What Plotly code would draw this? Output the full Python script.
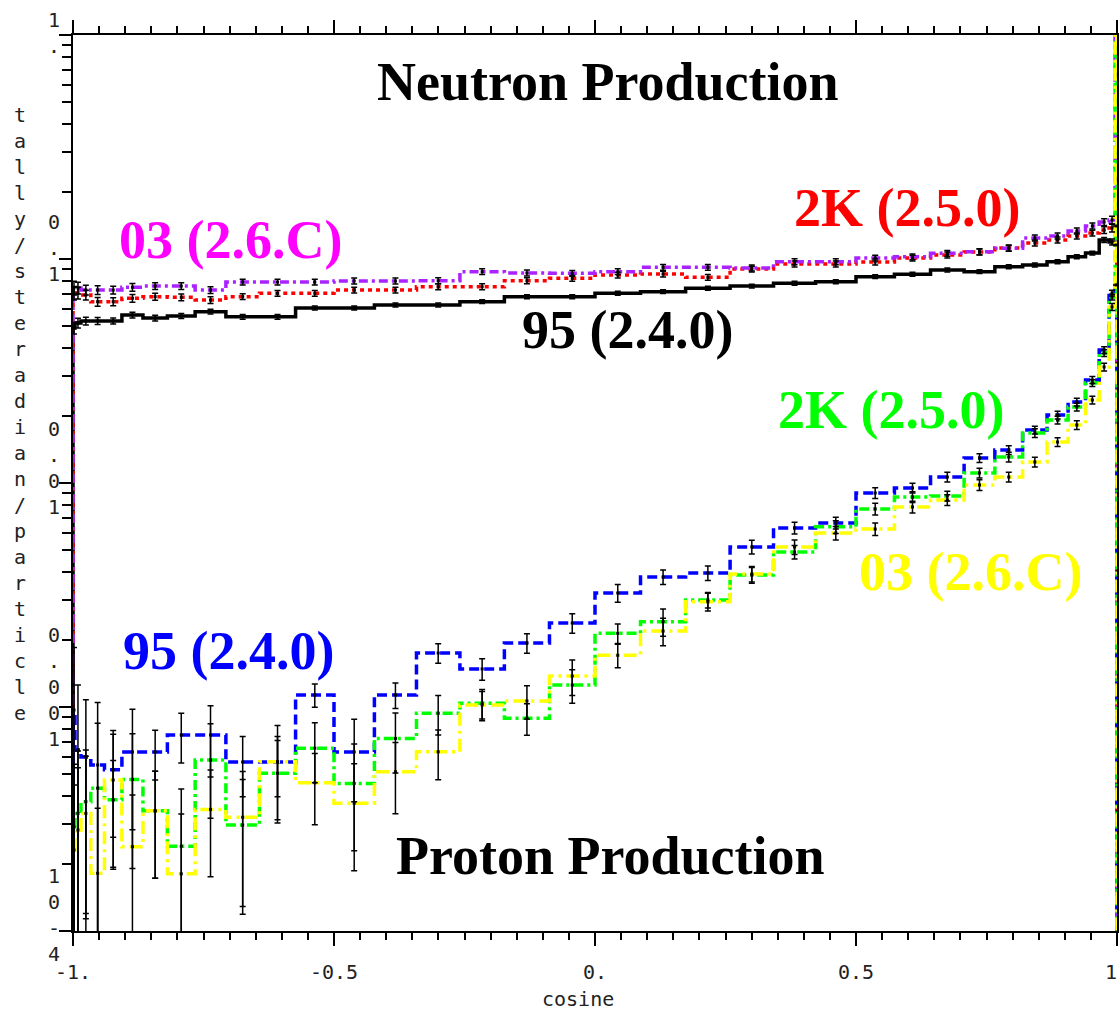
import plotly.graph_objects as go

# ---------------- data ----------------
# cosine bin edges (5-degree angular bins from 180 deg down to 0 deg)
cos_edges = [-1.0, -0.9962, -0.9848, -0.9659, -0.9397, -0.9063, -0.8660, -0.8192, -0.7660,
             -0.7071, -0.6428, -0.5736, -0.5, -0.4226, -0.3420, -0.2588, -0.1736, -0.0872,
             0.0, 0.0872, 0.1736, 0.2588, 0.3420, 0.4226, 0.5, 0.5736, 0.6428, 0.7071,
             0.7660, 0.8192, 0.8660, 0.9063, 0.9397, 0.9659, 0.9848, 0.9962, 1.0]

# Neutron production (tally/steradian/particle)
n95_240 = [0.0492, 0.0518, 0.0529, 0.0529, 0.0529, 0.0562, 0.0545, 0.0557, 0.0582, 0.0552,
           0.0552, 0.0604, 0.0604, 0.0623, 0.0623, 0.0645, 0.0679, 0.0679, 0.0703, 0.0715,
           0.0740, 0.0757, 0.0779, 0.0792, 0.0834, 0.0855, 0.0893, 0.0878, 0.0924, 0.0940,
           0.0973, 0.1023, 0.1063, 0.1216, 0.1191, 0.1155]
n2k_250 = [0.0705, 0.0705, 0.0691, 0.0645, 0.0645, 0.0668, 0.0679, 0.0675, 0.0656, 0.0679,
           0.0703, 0.0703, 0.0727, 0.0727, 0.0752, 0.0752, 0.0800, 0.0820, 0.0848, 0.0857,
           0.0828, 0.0902, 0.0950, 0.0950, 0.0970, 0.1010, 0.1042, 0.1075, 0.1120, 0.1179,
           0.1216, 0.1267, 0.1306, 0.1347, 0.1376, 0.1404]
n03_26c = [0.0743, 0.0743, 0.0727, 0.0727, 0.0727, 0.0748, 0.0757, 0.0757, 0.0727, 0.0789,
           0.0789, 0.0789, 0.0798, 0.0798, 0.0800, 0.0878, 0.0866, 0.0863, 0.0878, 0.0918,
           0.0918, 0.0912, 0.0973, 0.0973, 0.1010, 0.1023, 0.1060, 0.1078, 0.1116, 0.1241,
           0.1267, 0.1334, 0.1404, 0.1463, 0.1494, 3.0]

# Proton production
p95_240 = [0.00097, 0.000643, 0.000598, 0.000551, 0.000524, 0.00063, 0.00063, 0.00075, 0.00075, 0.000568,
           0.000568, 0.001132, 0.00063, 0.001132, 0.001742, 0.001479, 0.001931, 0.002371, 0.003228, 0.003805,
           0.003965, 0.005183, 0.006297, 0.006627, 0.009024, 0.009502, 0.01063, 0.01293, 0.01403, 0.01725,
           0.02012, 0.0230, 0.02884, 0.03925, 0.0705, 0.0766]
p2k_250 = [0.000292, 0.000335, 0.000378, 0.000434, 0.000385, 0.000475, 0.000344, 0.000239, 0.00058, 0.000297,
           0.000506, 0.000655, 0.000456, 0.000724, 0.000938, 0.00104, 0.000891, 0.001253, 0.002133, 0.002404,
           0.003006, 0.003882, 0.00492, 0.00637, 0.00766, 0.00866, 0.00875, 0.01109, 0.01306, 0.01671,
           0.0191, 0.02185, 0.02794, 0.03802, 0.0676, 3.0]
p03_26c = [0.00023, 0.000282, 0.000335, 0.000181, 0.000472, 0.000238, 0.000344, 0.00018, 0.000349, 0.000322,
           0.00057, 0.000459, 0.000372, 0.000514, 0.000631, 0.001021, 0.001064, 0.001374, 0.001702, 0.002183,
           0.002951, 0.003924, 0.005183, 0.00598, 0.00623, 0.00782, 0.0084, 0.0098, 0.01063, 0.01241,
           0.01524, 0.01815, 0.02348, 0.03296, 0.0611, 3.0]

# relative errors
n95_err = [0.06, 0.05, 0.04, 0.035, 0.03, 0.03, 0.03, 0.025, 0.025, 0.025, 0.025, 0.02, 0.02, 0.02, 0.02,
           0.02, 0.02, 0.02, 0.02, 0.02, 0.02, 0.02, 0.02, 0.02, 0.02, 0.02, 0.02, 0.02, 0.02, 0.02,
           0.02, 0.02, 0.02, 0.025, 0.03, 0.0]
n2k_err = [0.07, 0.06, 0.05, 0.045, 0.04, 0.04, 0.035, 0.035, 0.035, 0.03, 0.03, 0.03, 0.03, 0.03, 0.03,
           0.03, 0.03, 0.03, 0.03, 0.03, 0.03, 0.03, 0.03, 0.03, 0.03, 0.03, 0.03, 0.03, 0.03, 0.03,
           0.03, 0.03, 0.03, 0.035, 0.04, 0.0]
n03_err = [0.07, 0.06, 0.05, 0.045, 0.04, 0.04, 0.035, 0.035, 0.035, 0.03, 0.03, 0.03, 0.03, 0.03, 0.03,
           0.03, 0.03, 0.03, 0.03, 0.03, 0.03, 0.03, 0.03, 0.03, 0.03, 0.03, 0.03, 0.03, 0.03, 0.03,
           0.03, 0.03, 0.03, 0.035, 0.04, 0.0]
p95_err = [0.9, 0.95, 0.8, 0.9, 0.5, 0.55, 0.25, 0.25, 0.35, 0.3, 0.3, 0.12, 0.4, 0.13, 0.1,
           0.11, 0.1, 0.1, 0.09, 0.075, 0.075, 0.07, 0.06, 0.06, 0.055, 0.05, 0.05, 0.045, 0.045, 0.04,
           0.04, 0.04, 0.035, 0.035, 0.03, 0.0]
p2k_err = [0.9, 0.9, 0.7, 0.95, 0.5, 0.6, 0.5, 0.8, 0.45, 0.6, 0.4, 0.3, 0.5, 0.3, 0.2,
           0.15, 0.16, 0.17, 0.1, 0.14, 0.08, 0.08, 0.07, 0.065, 0.06, 0.055, 0.05, 0.05, 0.05, 0.045,
           0.04, 0.04, 0.035, 0.035, 0.03, 0.0]
p03_err = [0.95, 0.9, 0.8, 0.95, 0.6, 0.7, 0.5, 0.85, 0.5, 0.6, 0.45, 0.35, 0.5, 0.35, 0.25,
           0.15, 0.17, 0.18, 0.12, 0.14, 0.09, 0.08, 0.075, 0.07, 0.065, 0.06, 0.055, 0.055, 0.05, 0.05,
           0.045, 0.045, 0.04, 0.04, 0.035, 0.0]

x_ticks = [-1.0, -0.5, 0.0, 0.5, 1.0]
x_ticktext = ["-1.", "-0.5", "0.", "0.5", "1."]
y_ticks = [0, -1, -2, -3, -4]               # log10 of decade values
y_ticktext = ["1.", "0.1", "0.01", "0.001", "10-4"]
ZERO = 1e-7   # tally outside the binned range (below plotted range)

# ---------------- figure ----------------
W, H = 1119, 1011
L, R, T, B = 73, 2, 35, 80
PW, PH = W - L - R, H - T - B


def xp(px):
    return (px - L) / PW


def yp(py):
    return (H - B - py) / PH


centers = [(cos_edges[i] + cos_edges[i + 1]) / 2 for i in range(len(cos_edges) - 1)]

fig = go.Figure()


def step_trace(vals, color, dash, width=3.5):
    xs = [cos_edges[0]] + cos_edges + [cos_edges[-1]]
    ys = [ZERO] + vals + [vals[-1], ZERO]
    fig.add_trace(go.Scatter(x=xs, y=ys, mode="lines", line_shape="hv",
                             line=dict(color=color, width=width, dash=dash),
                             hoverinfo="skip", showlegend=False))


def err_trace(vals, rel):
    fig.add_trace(go.Scatter(x=centers, y=vals, mode="markers",
                             marker=dict(size=3, color="black", symbol="square"),
                             error_y=dict(type="data", array=[v * r for v, r in zip(vals, rel)],
                                          color="black", thickness=1.5, width=3),
                             hoverinfo="skip", showlegend=False))


step_trace(n95_240, "#000000", "solid", 3.5)
step_trace(n2k_250, "#ff0000", "4px,4px")
step_trace(n03_26c, "#aa22ff", "9px,4px,3px,4px")
step_trace(p95_240, "#0000ff", "10px,5px")
step_trace(p2k_250, "#00ff00", "10px,4px,3px,4px")
step_trace(p03_26c, "#ffff00", "13px,5px,3px,5px")

for v, r in [(p95_240, p95_err), (p2k_250, p2k_err), (p03_26c, p03_err),
             (n95_240, n95_err), (n2k_250, n2k_err), (n03_26c, n03_err)]:
    err_trace(v, r)

mono = "DejaVu Sans Mono"
serif = "Liberation Serif"
annotations = []

# x tick labels
for xv, t in zip(x_ticks, x_ticktext):
    annotations.append(dict(x=xv, y=yp(972), xref="x", yref="paper", text=t, showarrow=False,
                            xanchor="center", yanchor="middle",
                            font=dict(family=mono, size=20, color="#222222")))
annotations.append(dict(x=xp(578), y=yp(999), xref="paper", yref="paper", text="cosine",
                        showarrow=False, xanchor="center", yanchor="middle",
                        font=dict(family=mono, size=20, color="#222222")))

# y tick labels (stacked characters)
y_label_centers = [33, 248, 468, 687, 915]
for t, cy in zip(y_ticktext, y_label_centers):
    annotations.append(dict(x=xp(54), y=yp(cy), xref="paper", yref="paper",
                            text="<br>".join(list(t)), showarrow=False,
                            xanchor="center", yanchor="middle",
                            font=dict(family=mono, size=20, color="#222222")))

# y title (stacked characters)
annotations.append(dict(x=xp(20), y=yp(414), xref="paper", yref="paper",
                        text="<br>".join(list("tally/steradian/particle")), showarrow=False,
                        xanchor="center", yanchor="middle",
                        font=dict(family=mono, size=20, color="#222222")))

# big labels
big = [("Neutron Production", 608, 82, "#000000"),
       ("Proton Production", 610, 856, "#000000"),
       ("03 (2.6.C)", 230, 240, "#ff00ff"),
       ("2K (2.5.0)", 907, 208, "#ff0000"),
       ("95 (2.4.0)", 627, 330, "#000000"),
       ("2K (2.5.0)", 891, 410, "#00ff00"),
       ("03 (2.6.C)", 970, 572, "#ffff00"),
       ("95 (2.4.0)", 228, 651, "#0000ff")]
for t, cx, cy, c in big:
    annotations.append(dict(x=xp(cx), y=yp(cy), xref="paper", yref="paper",
                            text="<b>" + t + "</b>", showarrow=False,
                            xanchor="center", yanchor="middle",
                            font=dict(family=serif, size=54, color=c)))

fig.update_layout(
    width=W, height=H,
    margin=dict(l=L, r=R, t=T, b=B, pad=0, autoexpand=False),
    paper_bgcolor="white", plot_bgcolor="white",
    showlegend=False,
    annotations=annotations,
    xaxis=dict(range=[-1, 1], showgrid=False, zeroline=False, automargin=False,
               showline=True, linecolor="black", linewidth=2, mirror="allticks",
               ticks="outside", ticklen=13, tickwidth=1.5, tickcolor="black",
               tickmode="linear", tick0=-1, dtick=0.5, showticklabels=False,
               minor=dict(ticks="outside", ticklen=7, tickwidth=1.5, tickcolor="black",
                          tick0=-1, dtick=0.05, showgrid=False)),
    yaxis=dict(type="log", range=[-4, 0], showgrid=False, zeroline=False, automargin=False,
               showline=True, linecolor="black", linewidth=2, mirror="allticks",
               ticks="outside", ticklen=12, tickwidth=1.5, tickcolor="black",
               dtick=1, showticklabels=False,
               minor=dict(ticks="outside", ticklen=9, tickwidth=1.5, tickcolor="black",
                          dtick="D1", showgrid=False)),
)

fig.write_html("out.html", config={"displayModeBar": False},
               post_script="document.body.style.margin='0';document.body.style.overflow='hidden';")
